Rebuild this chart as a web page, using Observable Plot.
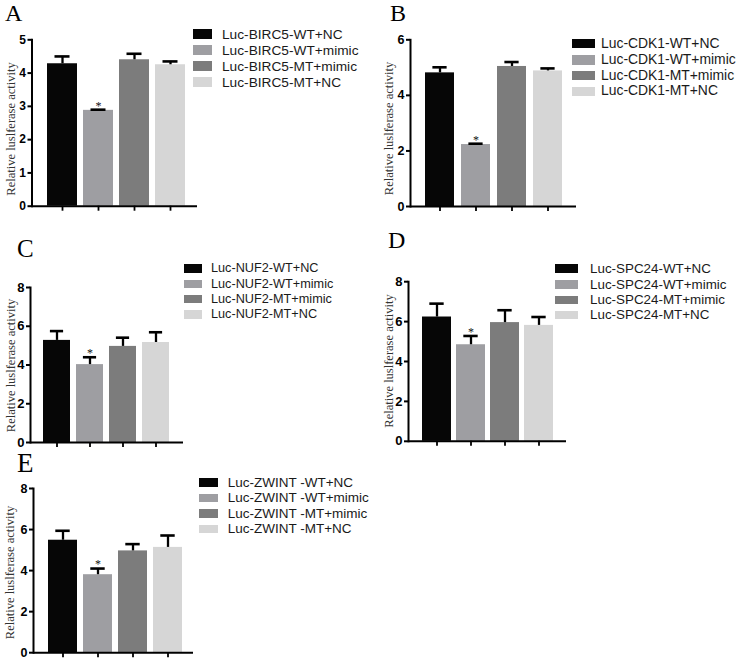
<!DOCTYPE html>
<html>
<head>
<meta charset="utf-8">
<script src="https://cdn.jsdelivr.net/npm/d3@7"></script>
<script src="https://cdn.jsdelivr.net/npm/@observablehq/plot@0.6"></script>
<style>
  body { margin: 0; background: #fff; }
  #root { position: relative; width: 737px; height: 659px; overflow: hidden; background: #fff; }
  .panel { position: absolute; }
  .panel svg g[aria-label="y-axis tick label"] { font-weight: bold; }
  .letter { position: absolute; font-family: "Liberation Serif", "Times New Roman", serif; line-height: 1; color: #000; white-space: nowrap; }
  .sw { position: absolute; }
  .tx { position: absolute; font-family: "Liberation Sans", Arial, sans-serif; line-height: 1; color: #1a1a1a; white-space: nowrap; }
</style>
</head>
<body>
<div id="root"></div>
<script>
// ---------- data ----------
const conditions = ["WT+NC", "WT+mimic", "MT+mimic", "MT+NC"];
const barColors = ["#060606", "#9e9ea2", "#7c7c7c", "#d6d6d6"];
const panelLetters = ["A", "B", "C", "D", "E"];
const legendPrefixes = ["Luc-BIRC5-", "Luc-CDK1-", "Luc-NUF2-", "Luc-SPC24-", "Luc-ZWINT -"];
const yTitle = "Relative luslferase activity";
const starFlags = [false, true, false, false];

const meansA = [4.28, 2.88, 4.40, 4.25];
const errA   = [0.22, 0.02, 0.18, 0.10];
const meansB = [4.81, 2.23, 5.04, 4.88];
const errB   = [0.20, 0.03, 0.16, 0.09];
const meansC = [5.27, 4.02, 4.96, 5.16];
const errC   = [0.48, 0.38, 0.45, 0.53];
const meansD = [6.23, 4.84, 5.95, 5.81];
const errD   = [0.67, 0.44, 0.62, 0.42];
const meansE = [5.48, 3.80, 4.96, 5.13];
const errE   = [0.46, 0.30, 0.33, 0.58];

const ticksA = [0, 1, 2, 3, 4, 5];
const ticksB = [0, 2, 4, 6];
const ticksCDE = [0, 2, 4, 6, 8];

// ---------- layout (page pixel positions) ----------
const layouts = [
  { box: [0, 0, 368, 220], axisX: 31.5, right: 197, yTopPx: 39.3, y0Px: 205.7, yMax: 5, ticks: ticksA,
    bars: [46.7, 184.7], pad: 0.167, tickFont: 12, titleX: 10, titleY: 128.5,
    letter: { x: 5, capTop: 5, size: 24 },
    legend: { swX: 193, swW: 19, swH: 10, txX: 222, rows: [34.3, 50.3, 66.3, 82.3], font: 13.7 } },
  { box: [368, 0, 369, 220], axisX: 410, right: 576, yTopPx: 39.3, y0Px: 206, yMax: 6, ticks: ticksB,
    bars: [424.3, 562.7], pad: 0.187, tickFont: 12.5, titleX: 388, titleY: 128,
    letter: { x: 390, capTop: 5, size: 24 },
    legend: { swX: 572, swW: 22.5, swH: 9.3, txX: 601, rows: [43.7, 60, 75.7, 91.3], font: 13.9 } },
  { box: [0, 220, 368, 230], axisX: 30, right: 183, yTopPx: 287, y0Px: 442, yMax: 8, ticks: ticksCDE,
    bars: [42.5, 170], pad: 0.171, tickFont: 13, titleX: 10, titleY: 365,
    letter: { x: 17, capTop: 240, size: 25 },
    legend: { swX: 184, swW: 18, swH: 8.7, txX: 211, rows: [268.3, 284, 299, 314.3], font: 12.7 } },
  { box: [368, 220, 369, 230], axisX: 408, right: 566, yTopPx: 281.2, y0Px: 440.8, yMax: 8, ticks: ticksCDE,
    bars: [420.8, 554.5], pad: 0.158, tickFont: 13, titleX: 388, titleY: 360.5,
    letter: { x: 388, capTop: 232, size: 24 },
    legend: { swX: 555, swW: 22.5, swH: 8.5, txX: 590, rows: [268.3, 284.3, 300, 315], font: 13.4 } },
  { box: [0, 445, 368, 214], axisX: 33, right: 193, yTopPx: 488, y0Px: 652.2, yMax: 8, ticks: ticksCDE,
    bars: [46, 182.7], pad: 0.185, tickFont: 12.5, titleX: 9, titleY: 572,
    letter: { x: 17, capTop: 455, size: 27 },
    legend: { swX: 199, swW: 19, swH: 8.5, txX: 227.7, rows: [482.5, 497.8, 513.3, 528.8], font: 13.5 } }
];

const allMeans = [meansA, meansB, meansC, meansD, meansE];
const allErr = [errA, errB, errC, errD, errE];

const root = document.getElementById("root");

function drawPanel(k) {
  const cfg = layouts[k];
  const [bx, by, bw, bh] = cfg.box;
  const means = allMeans[k], errs = allErr[k];
  const data = conditions.map((c, i) => ({ cond: c, mean: means[i], top: means[i] + errs[i], star: starFlags[i] }));
  const L = cfg.bars[1] - cfg.bars[0];
  const step = L / (conditions.length - cfg.pad);
  const bandW = step * (1 - cfg.pad);

  const chart = Plot.plot({
    width: bw,
    height: bh,
    marginLeft: cfg.axisX - bx,
    marginRight: bx + bw - cfg.right,
    marginTop: cfg.yTopPx - by,
    marginBottom: by + bh - cfg.y0Px,
    style: { background: "transparent", overflow: "visible" },
    x: { domain: conditions, range: [cfg.bars[0] - bx, cfg.bars[1] - bx], paddingInner: cfg.pad, paddingOuter: 0, axis: null },
    y: { domain: [0, cfg.yMax], axis: null },
    color: { domain: conditions, range: barColors },
    marks: [
      Plot.barY(data, { x: "cond", y: "mean", fill: "cond", inset: 0 }),
      Plot.ruleX(data, { x: "cond", y1: "mean", y2: "top", stroke: "#000", strokeWidth: 2.3 }),
      Plot.tickY(data, { x: "cond", y: "top", stroke: "#000", strokeWidth: 2.6, insetLeft: bandW / 4, insetRight: bandW / 4 }),
      Plot.text(data.filter(d => d.star), { x: "cond", y: "top", text: () => "*", dy: -4, fontSize: 12, fontFamily: "Liberation Serif, serif", fill: "#111" }),
      Plot.ruleY([0], { stroke: "#000", strokeWidth: 2 }),
      Plot.frame({ anchor: "left", stroke: "#000", strokeWidth: 2 }),
      Plot.axisY({ ticks: cfg.ticks, tickSize: 4, tickPadding: 2, strokeWidth: 2, fontWeight: "bold", fontSize: cfg.tickFont,
                   fontFamily: "Liberation Sans, Arial, sans-serif", fill: "#000", label: null, tickFormat: d => String(d) }),
      Plot.axisX({ tickSize: 5, strokeWidth: 1.8, tickFormat: () => "", label: null }),
      Plot.text([yTitle], { text: d => d, frameAnchor: "left", textAnchor: "middle", lineAnchor: "middle", rotate: -90,
                            dx: cfg.titleX - cfg.axisX, dy: cfg.titleY - (cfg.yTopPx + cfg.y0Px) / 2,
                            fontFamily: "Liberation Serif, Times New Roman, serif", fontSize: 12.5, fill: "#333" })
    ]
  });
  const wrap = document.createElement("div");
  wrap.className = "panel";
  wrap.style.left = bx + "px";
  wrap.style.top = by + "px";
  wrap.appendChild(chart);
  root.appendChild(wrap);
}

function drawDecor(k) {
  const cfg = layouts[k];
  const lt = document.createElement("div");
  lt.className = "letter";
  lt.textContent = panelLetters[k];
  lt.style.fontSize = cfg.letter.size + "px";
  lt.style.left = cfg.letter.x + "px";
  lt.style.top = (cfg.letter.capTop - 0.1755 * cfg.letter.size) + "px";
  root.appendChild(lt);

  const lg = cfg.legend;
  conditions.forEach((c, i) => {
    const sw = document.createElement("div");
    sw.className = "sw";
    sw.style.left = lg.swX + "px";
    sw.style.top = (lg.rows[i] - lg.swH / 2) + "px";
    sw.style.width = lg.swW + "px";
    sw.style.height = lg.swH + "px";
    sw.style.background = barColors[i];
    root.appendChild(sw);
    const tx = document.createElement("div");
    tx.className = "tx";
    tx.textContent = legendPrefixes[k] + c;
    tx.style.fontSize = lg.font + "px";
    tx.style.left = lg.txX + "px";
    tx.style.top = (lg.rows[i] - 0.49 * lg.font) + "px";
    root.appendChild(tx);
  });
}

for (let k = 0; k < layouts.length; k++) drawPanel(k);
for (let k = 0; k < layouts.length; k++) drawDecor(k);
</script>
</body>
</html>
